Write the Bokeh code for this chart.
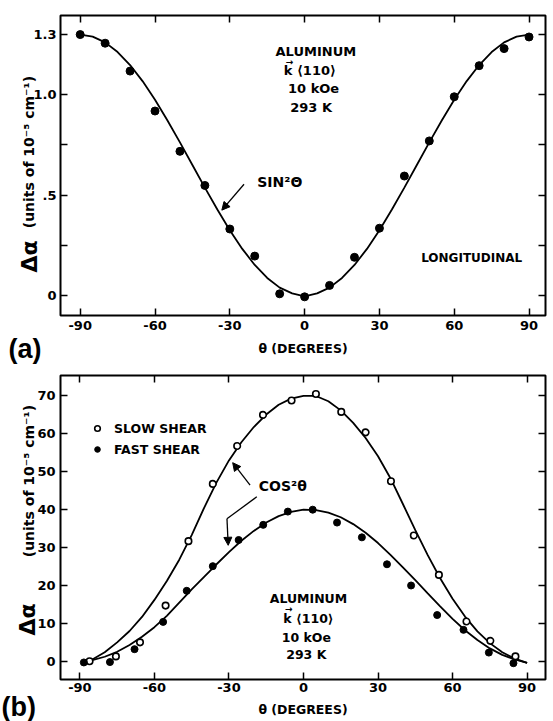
from math import pi
from bokeh.plotting import figure
from bokeh.models import (LinearAxis, FixedTicker, Label, Arrow, NormalHead, GridBox,
                          Range1d, Legend, LegendItem, CustomJSTickFormatter)
from bokeh.layouts import column
from bokeh.embed import file_html
from bokeh.resources import INLINE

# ---------------- data: panel (a), longitudinal ----------------
theta_a = [-90, -80, -70, -60, -50, -40, -30, -20, -10, 0, 10, 20, 30, 40, 50, 60, 70, 80, 90]
dalpha_a = [1.30, 1.257, 1.118, 0.919, 0.718, 0.548, 0.331, 0.196, 0.008, -0.007,
            0.05, 0.19, 0.335, 0.595, 0.77, 0.99, 1.145, 1.23, 1.288]
fit_theta_a = [-90, -85, -80, -75, -70, -65, -60, -55, -50, -45, -40, -35, -30, -25, -20, -15, -10, -5, 0,
               5, 10, 15, 20, 25, 30, 35, 40, 45, 50, 55, 60, 65, 70, 75, 80, 85, 90]
fit_a = [1.300, 1.290, 1.261, 1.213, 1.148, 1.068, 0.975, 0.872, 0.763, 0.650, 0.537, 0.428, 0.325,
         0.232, 0.152, 0.087, 0.039, 0.010, -0.005, 0.010, 0.039, 0.087, 0.152, 0.232, 0.325, 0.428,
         0.537, 0.650, 0.763, 0.872, 0.975, 1.068, 1.148, 1.213, 1.261, 1.290, 1.300]

# ---------------- data: panel (b), shear waves ----------------
theta_slow = [-86.1, -75.5, -65.8, -55.5, -46.3, -36.5, -26.7, -16.3, -4.8, 5.0, 15.2, 25.0,
              35.2, 44.4, 54.5, 65.6, 75.2, 85.3]
dalpha_slow = [0.0, 1.3, 5.0, 14.7, 31.7, 46.8, 56.8, 65.0, 68.8, 70.5, 65.8, 60.4,
               47.5, 33.2, 22.8, 10.5, 5.4, 1.3]
theta_fast = [-88.4, -77.9, -68.0, -56.5, -47.0, -36.5, -26.1, -16.2, -6.3, 3.7, 13.5, 23.5,
              33.6, 43.3, 53.8, 64.4, 74.6, 84.5]
dalpha_fast = [-0.3, -0.2, 3.2, 10.4, 18.6, 25.1, 32.0, 36.0, 39.5, 40.0, 36.6, 32.7,
               25.6, 20.0, 12.2, 8.3, 2.3, -0.5]
fit_theta_slow = [-87, -85, -80, -75, -70, -65, -60, -55, -50, -45, -40, -35, -30, -25, -20, -15, -10, -5, 0,
                  5, 10, 15, 20, 25, 30, 35, 40, 45, 50, 55, 60, 65, 70, 75, 80, 85, 90]
fit_slow = [0.0, 0.5, 2.4, 5.0, 8.0, 11.7, 16.2, 21.2, 26.8, 33.3, 40.5, 47.2, 53.0, 57.8, 61.8, 65.1,
            67.7, 69.3, 70.0, 70.0, 68.6, 66.2, 62.9, 58.9, 54.1, 48.3, 41.5, 34.6, 28.0, 21.9, 16.5,
            11.8, 7.9, 4.8, 2.4, 0.7, -0.4]
fit_theta_fast = [-88, -85, -80, -75, -70, -65, -60, -55, -50, -45, -40, -35, -30, -25, -20, -15, -10, -5, 0,
                  5, 10, 15, 20, 25, 30, 35, 40, 45, 50, 55, 60, 65, 70, 75, 80, 85, 90]
fit_fast = [0.0, 0.3, 1.2, 2.5, 4.3, 6.5, 9.0, 12.0, 15.5, 19.0, 22.3, 25.6, 28.8, 31.8, 34.4, 36.6,
            38.3, 39.4, 40.0, 39.9, 39.2, 38.0, 36.2, 33.9, 31.2, 28.1, 24.8, 21.4, 17.9, 14.5, 11.2,
            8.2, 5.6, 3.4, 1.7, 0.5, -0.4]

x_ticks = [-90, -60, -30, 0, 30, 60, 90]
x_tick_labels = {-90: "-90", -60: "-60", -30: "-30", 0: "0", 30: "30", 60: "60", 90: "90"}
y_ticks_a = [0, 0.25, 0.5, 0.75, 1.0, 1.3]
y_tick_labels_a = {0: "0", 0.25: "", 0.5: ".5", 0.75: "", 1.0: "1.0", 1.3: "1.3"}
y_ticks_b = [0, 10, 20, 30, 40, 50, 60, 70]

FONT = "DejaVu Sans"
W = 553


def style_axis(ax):
    ax.axis_line_color = None
    ax.major_tick_in = 7
    ax.major_tick_out = 0
    ax.major_tick_line_width = 1.5
    ax.major_tick_line_color = "black"
    ax.minor_tick_line_color = None
    ax.major_label_text_font = FONT
    ax.major_label_text_font_style = "bold"
    ax.major_label_text_color = "black"
    ax.major_label_text_font_size = "13px"
    ax.axis_label_text_font = FONT
    ax.axis_label_text_font_style = "bold"
    ax.axis_label_text_color = "black"


def setup_axes(p, xt, yt, xlab, ylab=None):
    bottom = p.below[0]
    left = p.left[0]
    bottom.ticker = FixedTicker(ticks=xt)
    left.ticker = FixedTicker(ticks=yt)
    bottom.major_label_overrides = xlab
    if ylab:
        left.major_label_overrides = ylab
    top = LinearAxis(ticker=FixedTicker(ticks=xt), formatter=CustomJSTickFormatter(code="return ''"))
    right = LinearAxis(ticker=FixedTicker(ticks=yt), formatter=CustomJSTickFormatter(code="return ''"))
    p.add_layout(top, "above")
    p.add_layout(right, "right")
    for ax in (bottom, left, top, right):
        style_axis(ax)
    for ax in (top, right):
        ax.major_label_text_font_size = "1px"
        ax.major_label_standoff = 0
    p.grid.visible = False
    p.outline_line_color = "black"
    p.outline_line_width = 2
    p.background_fill_color = "white"
    p.border_fill_color = "white"
    return bottom, left


def label(p, x, y, text, size="13px", align="center", angle=0, font=FONT):
    p.add_layout(Label(x=x, y=y, text=text, text_font=font, text_font_style="bold",
                       text_font_size=size, text_align=align, text_baseline="middle",
                       text_color="black", angle=angle))


def arrow(p, xs, ys, xe, ye, head=True):
    end = NormalHead(size=8, fill_color="black", line_color="black") if head else None
    p.add_layout(Arrow(end=end, x_start=xs, y_start=ys, x_end=xe, y_end=ye,
                       line_width=1.3, line_color="black"))


# ---------------- panel (a) ----------------
p1 = figure(width=W, height=362, x_range=Range1d(-97.9, 96.6), y_range=Range1d(-0.1, 1.395),
            output_backend="svg", toolbar_location=None,
            min_border_left=60, min_border_right=4, min_border_top=15, min_border_bottom=47)
b1, l1 = setup_axes(p1, x_ticks, y_ticks_a, x_tick_labels, y_tick_labels_a)
b1.axis_label = "θ (DEGREES)"
b1.axis_label_text_font_size = "12.5px"
b1.major_label_standoff = 5
b1.axis_label_standoff = 8
l1.major_label_standoff = 4

p1.line(fit_theta_a, fit_a, line_color="black", line_width=1.8)
p1.scatter(theta_a, dalpha_a, marker="circle", size=8, fill_color="black", line_color="black")

label(p1, 4.5, 1.215, "ALUMINUM")
label(p1, 2.1, 1.12, "k ⟨110⟩")
label(p1, -6.1, 1.163, "→", size="9px")
label(p1, 4.5, 1.03, "10  kOe")
label(p1, 3.5, 0.935, "293  K")
label(p1, 67, 0.185, "LONGITUDINAL", size="12px")
label(p1, -19, 0.565, "SIN²Θ", size="14px", align="left")
arrow(p1, -24.3, 0.554, -33.2, 0.425)

# ---------------- panel (b) ----------------
p2 = figure(width=W, height=359, x_range=Range1d(-97.8, 97.4), y_range=Range1d(-4.8, 75.4),
            output_backend="svg", toolbar_location=None,
            min_border_left=54, min_border_right=8, min_border_top=13, min_border_bottom=42)
b2, l2 = setup_axes(p2, x_ticks, y_ticks_b, x_tick_labels)
b2.axis_label = "θ (DEGREES)"
b2.axis_label_text_font_size = "12.5px"
b2.major_label_standoff = 3
b2.axis_label_standoff = 7
l2.major_label_standoff = 5

p2.line(fit_theta_slow, fit_slow, line_color="black", line_width=1.8)
p2.line(fit_theta_fast, fit_fast, line_color="black", line_width=1.8)
r_slow = p2.scatter(theta_slow, dalpha_slow, marker="circle", size=6.5, fill_color="white",
                    line_color="black", line_width=1.6)
r_fast = p2.scatter(theta_fast, dalpha_fast, marker="circle", size=7, fill_color="black",
                    line_color="black")

legend = Legend(items=[LegendItem(label="SLOW SHEAR", renderers=[r_slow]),
                       LegendItem(label="FAST SHEAR", renderers=[r_fast])],
                location=(30, 221), padding=0, margin=0, spacing=3,
                glyph_width=14, glyph_height=18, label_height=18, label_standoff=10,
                label_text_font=FONT, label_text_font_style="bold", label_text_font_size="12.5px",
                label_text_color="black", border_line_color=None, background_fill_alpha=0)
p2.add_layout(legend)

label(p2, 2.0, 16.6, "ALUMINUM", size="12.5px")
label(p2, 2.0, 11.3, "k ⟨110⟩", size="12.5px")
label(p2, -5.9, 13.7, "→", size="9px")
label(p2, 2.0, 6.3, "10  kOe", size="12.5px")
label(p2, 2.0, 1.7, "293  K", size="12.5px")
label(p2, -18, 46.2, "COS²θ", size="14px", align="left")
arrow(p2, -21.5, 46.5, -28.5, 52.4)
arrow(p2, -18.8, 43.4, -30.8, 37.6, head=False)
arrow(p2, -30.8, 37.6, -30.3, 30.6)

# ---------------- transparent overlay (same grid cell) for texts outside the frames ----------------
# coordinates are page pixels: x from the left edge, y upwards from the bottom
ov = figure(width=W, height=721, x_range=Range1d(0, W), y_range=Range1d(0, 721),
            x_axis_type=None, y_axis_type=None, output_backend="svg", toolbar_location=None,
            min_border=0, outline_line_color=None)
ov.border_fill_alpha = 0
ov.background_fill_alpha = 0

label(ov, 29, 465, "Δα", size="22px", angle=pi / 2)
label(ov, 28, 584, "(units   of   10⁻⁵   cm⁻¹)", size="14px", angle=pi / 2)
label(ov, 8, 373, "(a)", size="27px", align="left", font="Liberation Sans")
label(ov, 27, 102, "Δα", size="22px", angle=pi / 2)
label(ov, 28.5, 255, "(units   of   10⁻⁵   cm⁻¹)", size="14px", angle=pi / 2)
label(ov, 1, 15, "(b)", size="27px", align="left", font="Liberation Sans")

panels = column(p1, p2, spacing=0)
layout = GridBox(children=[(panels, 0, 0), (ov, 0, 0)])
open("out.html", "w").write(file_html(layout, INLINE))
